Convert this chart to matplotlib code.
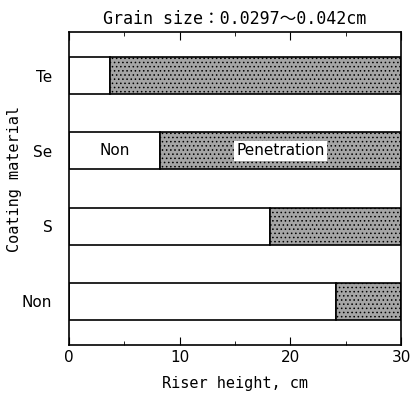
import numpy as np
import matplotlib.pyplot as plt
from matplotlib.ticker import MultipleLocator

plt.rcParams['font.family'] = ['DejaVu Sans Mono', 'Noto Sans CJK JP']
plt.rcParams['hatch.color'] = '#555555'
plt.rcParams['hatch.linewidth'] = 0.6

materials = ['Non', 'S', 'Se', 'Te']
non_pen = [24.1, 18.15, 8.2, 3.7]
total = 30

fig = plt.figure(figsize=(4.11, 4.01), dpi=100)
ax = fig.add_axes([69/411, 56/401, 332/411, 313/401])

y = np.arange(len(materials))
pen = [total - v for v in non_pen]
ax.barh(y, non_pen, height=0.49, color='white', edgecolor='black', lw=1.2)
ax.barh(y, pen, left=non_pen, height=0.49, color='#a5a5a5',
        edgecolor='black', hatch='....', lw=1.2)

# labels inside the Se bar
ax.text(non_pen[2] / 2, 2, 'Non', ha='center', va='center',
        fontsize=11, family='DejaVu Sans')
ax.text((non_pen[2] + total) / 2, 2, 'Penetration', ha='center', va='center',
        fontsize=11, family='DejaVu Sans',
        bbox=dict(facecolor='white', edgecolor='none', pad=1.5))

ax.set_xlim(0, 30)
ax.set_ylim(-0.58, 3.58)
ax.set_yticks(y)
ax.set_yticklabels(materials, fontsize=11, family='DejaVu Sans')
ax.xaxis.set_major_locator(MultipleLocator(10))
ax.xaxis.set_minor_locator(MultipleLocator(5))
ax.tick_params(axis='x', which='both', direction='in', top=True, labelsize=11)
ax.tick_params(axis='x', which='major', length=6)
ax.tick_params(axis='x', which='minor', length=3)
ax.tick_params(axis='y', length=0, pad=12)
for lbl in ax.get_xticklabels():
    lbl.set_family('DejaVu Sans')
for s in ax.spines.values():
    s.set_linewidth(1.2)

ax.set_xlabel('Riser height, cm', fontsize=11, labelpad=8)
ax.set_ylabel('Coating material', fontsize=11)
ax.yaxis.set_label_coords(-0.142, 0.53)
ax.set_title('Grain size：0.0297～0.042cm', fontsize=12, pad=6)

fig.savefig('out.png', dpi=100)
